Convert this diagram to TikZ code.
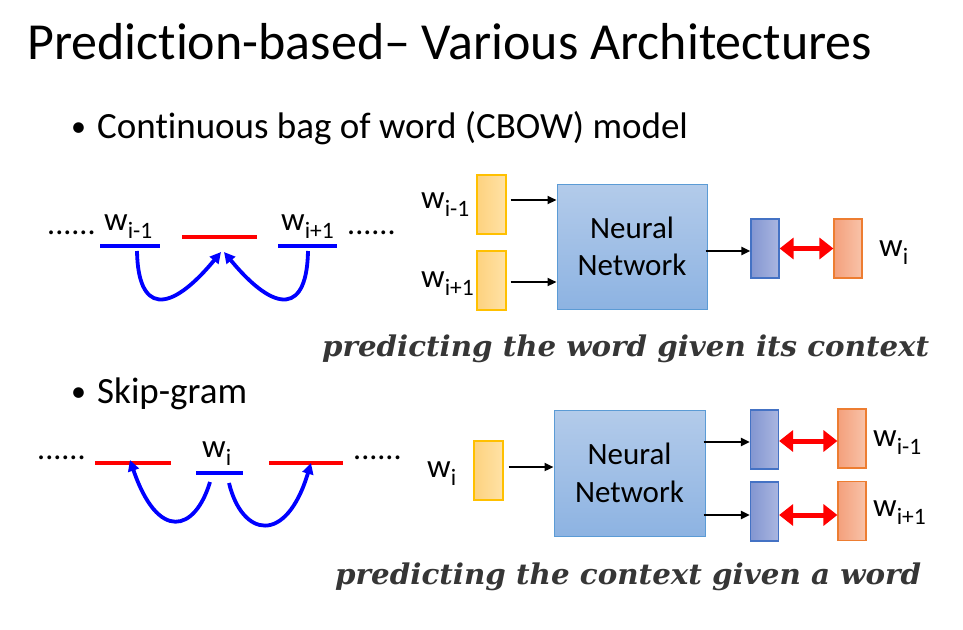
\documentclass[tikz,border=0pt]{standalone}
\usepackage{fontspec}
\setmainfont{Carlito}[Ligatures={NoCommon,TeX}]
\newfontfamily\geo{DejaVu Serif}
\usetikzlibrary{arrows.meta,calc}
\definecolor{ylL}{HTML}{FDD27F}
\definecolor{ylR}{HTML}{FFE2A6}
\definecolor{ylB}{HTML}{FFC000}
\definecolor{nnT}{HTML}{B3CBEA}
\definecolor{nnB}{HTML}{8DB3E2}
\definecolor{nnD}{HTML}{5B9BD5}
\definecolor{bxL}{HTML}{8396D1}
\definecolor{bxR}{HTML}{AAB6E0}
\definecolor{bxD}{HTML}{4472C4}
\definecolor{orL}{HTML}{F4A07C}
\definecolor{orR}{HTML}{F8C3A9}
\definecolor{orD}{HTML}{ED7D31}
\definecolor{slate}{HTML}{363636}
\newcommand\wsub[1]{w\raisebox{-8pt}{\fontsize{23.5}{23.5}\selectfont #1}}
\tikzset{
  lbl/.style={anchor=base west,inner sep=0pt,font=\fontsize{33}{33}\selectfont},
  ybox/.style={draw=ylB,line width=1.2pt,left color=ylL,right color=ylR,minimum width=29pt,minimum height=59pt,inner sep=0pt},
  nnbox/.style={draw=nnD,line width=1pt,top color=nnT,bottom color=nnB,minimum width=150pt,minimum height=125pt,inner sep=0pt,align=center,font=\fontsize{31}{37.5}\selectfont},
  bbox/.style={draw=bxD,line width=1.2pt,left color=bxL,right color=bxR,minimum width=28pt,minimum height=59pt,inner sep=0pt},
  obox/.style={draw=orD,line width=1.2pt,left color=orL,right color=orR,minimum width=28pt,minimum height=59pt,inner sep=0pt},
  karrow/.style={line width=2.2pt,-{Triangle[length=9pt,width=8pt]}},
  rarrow/.style={red,line width=5pt,{Triangle[length=14pt,width=21pt]}-{Triangle[length=14pt,width=21pt]}},
  barc/.style={blue,line width=3.8pt,-{Triangle[length=11pt,width=11pt]}},
  bline/.style={blue,line width=4pt},
  rline/.style={red,line width=4pt},
  dots/.style={anchor=base west,inner sep=0pt,font=\fontsize{32}{32}\selectfont},
  ital/.style={anchor=base west,inner sep=0pt,text=slate},
  bul/.style={anchor=base west,inner sep=0pt,font=\fontsize{30}{30}\selectfont},
  btext/.style={anchor=base west,inner sep=0pt,font=\fontsize{37}{37}\selectfont},
}
\begin{document}
\begin{tikzpicture}[x=1pt,y=-1pt]
\useasboundingbox[fill=white] (0,0) rectangle (963,629);
% title and bullets
\node[anchor=base west,inner sep=0pt,font=\fontsize{52}{52}\selectfont] (title) at (27,59) {Prediction-based– Various Architectures};
\node[bul] (b1) at (71,136) {•};
\node[btext] (t1) at (97,138) {Continuous bag of word (CBOW) model};
\node[bul] (b2) at (71,401) {•};
\node[btext] (t2) at (97,403) {Skip-gram};

% ---------- CBOW left ----------
\node[dots] (d1) at (47,234) {......};
\node[lbl] (cwl) at (104,230) {\wsub{i-1}};
\node[lbl] (cwr) at (281,230) {\wsub{i+1}};
\node[dots] (d2) at (347,234) {......};
\coordinate (cl1) at (100,246); \coordinate (cl2) at (160,246);
\coordinate (cm1) at (182,237); \coordinate (cm2) at (257,237);
\coordinate (cr1) at (278,246); \coordinate (cr2) at (337,246);
\draw[bline] (cl1) -- (cl2);
\draw[rline] (cm1) -- (cm2);
\draw[bline] (cr1) -- (cr2);
\coordinate (ca1) at (137,251); \coordinate (ct1) at (221,252);
\coordinate (ca2) at (308,251); \coordinate (ct2) at (224,252);
\draw[barc] (ca1) .. controls (138,312) and (168,316) .. (ct1);
\draw[barc] (ca2) .. controls (307,312) and (277,316) .. (ct2);

% ---------- CBOW right ----------
\node[ybox] (y1) at (491.5,204.5) {};
\node[ybox] (y2) at (491.5,280.5) {};
\node[lbl] (lw1) at (421,208) {\wsub{i-1}};
\node[lbl] (lw2) at (421,287) {\wsub{i+1}};
\node[nnbox] (nn1) at (632,246.5) {Neural\\Network};
\node[bbox] (o1) at (765,248.5) {};
\node[obox] (p1) at (848,248.5) {};
\node[lbl] (lwi) at (879,256) {\wsub{i}};
\draw[karrow] ([xshift=4pt,yshift=4.5pt]y1.east) -- ([yshift=4.5pt]y1.east -| nn1.west);
\draw[karrow] ([xshift=4pt,yshift=-1.5pt]y2.east) -- ([yshift=-1.5pt]y2.east -| nn1.west);
\draw[karrow] ([xshift=-2pt,yshift=-2.5pt]o1.west -| nn1.east) -- ([yshift=-2.5pt]o1.west);
\draw[rarrow] (o1.east) -- (o1.east -| p1.west);
\node[ital] (it1) at (322,356) {\resizebox{607pt}{\height}{\geo\bfseries\itshape\fontsize{28.5}{30}\selectfont predicting the word given its context}};

% ---------- Skip-gram left ----------
\node[dots] (d3) at (37,459) {......};
\node[lbl] (swi) at (202,457) {\wsub{i}};
\node[dots] (d4) at (353,459) {......};
\coordinate (sl1) at (95,463); \coordinate (sl2) at (171,463);
\coordinate (sm1) at (196,473); \coordinate (sm2) at (243,473);
\coordinate (sr1) at (269,463); \coordinate (sr2) at (343,463);
\draw[rline] (sl1) -- (sl2);
\draw[bline] (sm1) -- (sm2);
\draw[rline] (sr1) -- (sr2);
\coordinate (sa1) at (210,482); \coordinate (st1) at (130,460);
\coordinate (sa2) at (229,483); \coordinate (st2) at (311,463);
\draw[barc] (sa1) .. controls (195,532) and (158,542) .. (st1);
\draw[barc] (sa2) .. controls (242,537) and (286,546) .. (st2);

% ---------- Skip-gram right ----------
\node[ybox] (y3) at (488.5,470.5) {};
\node[lbl] (lw3) at (427,477) {\wsub{i}};
\node[nnbox,minimum width=151pt,minimum height=126pt] (nn2) at (629.5,473) {Neural\\Network};
\node[bbox] (o2) at (764.5,439.5) {};
\node[bbox] (o3) at (764.5,511.5) {};
\node[obox] (p2) at (852,438.5) {};
\node[obox] (p3) at (852,511) {};
\node[lbl] (lw4) at (873,446) {\wsub{i-1}};
\node[lbl] (lw5) at (873,516) {\wsub{i+1}};
\draw[karrow] ([xshift=5pt,yshift=3.5pt]y3.east) -- ([yshift=3.5pt]y3.east -| nn2.west);
\draw[karrow] ([xshift=-2pt,yshift=-2.5pt]o2.west -| nn2.east) -- ([yshift=-2.5pt]o2.west);
\draw[karrow] ([xshift=-2pt,yshift=-3.5pt]o3.west -| nn2.east) -- ([yshift=-3.5pt]o3.west);
\draw[rarrow] ([yshift=-1.5pt]o2.east) -- ([yshift=-1.5pt]o2.east -| p2.west);
\draw[rarrow] ([yshift=-3.5pt]o3.east) -- ([yshift=-3.5pt]o3.east -| p3.west);
\node[ital] (it2) at (335,584) {\resizebox{586pt}{\height}{\geo\bfseries\itshape\fontsize{28.5}{30}\selectfont predicting the context given a word}};
\end{tikzpicture}
\end{document}
